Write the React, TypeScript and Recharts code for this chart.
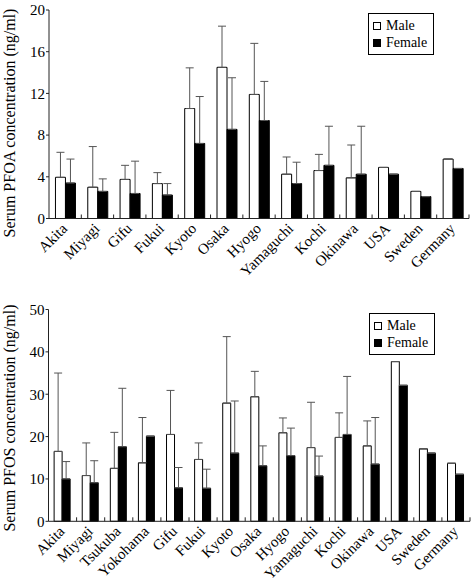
import { Bar, BarChart, ErrorBar, Label, Legend, XAxis, YAxis } from "recharts";

const FONT = '"Liberation Serif", "DejaVu Serif", "Noto Serif", Times, serif';

// PFOA panel (ng/ml), mean and SD
const pfoaSites = [
  "Akita", "Miyagi", "Gifu", "Fukui", "Kyoto", "Osaka", "Hyogo",
  "Yamaguchi", "Kochi", "Okinawa", "USA", "Sweden", "Germany",
];
const pfoaMale = [3.95, 3.0, 3.75, 3.35, 10.55, 14.5, 11.9, 4.25, 4.6, 3.9, 4.9, 2.6, 5.7];
const pfoaMaleSd = [2.4, 3.9, 1.35, 1.05, 3.9, 3.95, 4.9, 1.65, 1.55, 3.15, 0, 0, 0];
const pfoaFemale = [3.4, 2.6, 2.4, 2.25, 7.2, 8.55, 9.4, 3.35, 5.1, 4.25, 4.25, 2.1, 4.8];
const pfoaFemaleSd = [2.3, 1.2, 3.1, 1.1, 4.5, 4.95, 3.75, 2.05, 3.75, 4.6, 0, 0, 0];
const pfoaTicks = [0, 4, 8, 12, 16, 20];

// PFOS panel (ng/ml)
const pfosSites = [
  "Akita", "Miyagi", "Tsukuba", "Yokohama", "Gifu", "Fukui", "Kyoto", "Osaka",
  "Hyogo", "Yamaguchi", "Kochi", "Okinawa", "USA", "Sweden", "Germany",
];
const pfosMale = [16.5, 10.8, 12.5, 13.8, 20.5, 14.6, 27.9, 29.4, 20.9, 17.4, 19.8, 17.8, 37.7, 17.1, 13.7];
const pfosMaleSd = [18.5, 7.7, 8.5, 10.7, 10.4, 3.9, 15.7, 6.0, 3.5, 10.7, 5.8, 5.9, 0, 0, 0];
const pfosFemale = [10.0, 9.1, 17.6, 20.1, 7.9, 7.8, 16.1, 13.1, 15.5, 10.7, 20.5, 13.5, 32.1, 16.1, 11.1];
const pfosFemaleSd = [4.1, 5.2, 13.8, 0, 4.8, 4.5, 12.3, 4.7, 6.5, 4.7, 13.7, 11.0, 0, 0, 0];
const pfosTicks = [0, 10, 20, 30, 40, 50];

const sexes = ["Male", "Female"];

const buildRows = (sites: string[], male: number[], maleSd: number[], female: number[], femaleSd: number[]) =>
  sites.map((site, i) => ({
    site,
    male: male[i],
    female: female[i],
    // one-sided (upper) error bars
    maleErr: [0, maleSd[i]],
    femaleErr: [0, femaleSd[i]],
  }));

const pfoaData = buildRows(pfoaSites, pfoaMale, pfoaMaleSd, pfoaFemale, pfoaFemaleSd);
const pfosData = buildRows(pfosSites, pfosMale, pfosMaleSd, pfosFemale, pfosFemaleSd);

const SiteTick = (props: any) => {
  const { x, y, payload, band } = props;
  const tx = x + 3;
  const ty = y + 11;
  return (
    <g>
      <line x1={x + band / 2} x2={x + band / 2} y1={y} y2={y - 4} stroke="#222" />
      <text
        x={tx}
        y={ty}
        transform={`rotate(-45 ${tx} ${ty})`}
        textAnchor="end"
        style={{ fontFamily: FONT, fontSize: 15 }}
        fill="#000"
      >
        {payload.value}
      </text>
    </g>
  );
};

const SexLegend = () => (
  <div
    style={{
      border: "1px solid #000",
      background: "#fff",
      padding: "3px 6px 3px 4px",
      fontFamily: FONT,
      fontSize: 14,
      lineHeight: "17px",
      color: "#000",
    }}
  >
    {sexes.map((s, i) => (
      <div key={s} style={{ display: "flex", alignItems: "center" }}>
        <span
          style={{
            width: 8,
            height: 8,
            boxSizing: "border-box",
            border: "1px solid #000",
            background: i ? "#000" : "#fff",
            marginRight: 5,
            display: "inline-block",
          }}
        />
        {s}
      </div>
    ))}
  </div>
);

interface PanelProps {
  data: ReturnType<typeof buildRows>;
  ticks: number[];
  label: string;
  labelY: number;
  margin: { top: number; right: number; bottom: number; left: number };
  xHeight: number;
  legendPos: { left: number; top: number };
}

function Panel({ data, ticks, label, labelY, margin, xHeight, legendPos }: PanelProps) {
  const plotW = 472 - margin.left - margin.right - 40;
  const band = plotW / data.length;
  return (
    <BarChart
      width={472}
      height={291}
      data={data}
      margin={margin}
      barCategoryGap="20%"
      barGap={0}
    >
      <XAxis
        dataKey="site"
        height={xHeight}
        interval={0}
        tickLine={false}
        tickSize={0}
        tickMargin={0}
        stroke="#222"
        tick={(p: any) => <SiteTick {...p} band={band} />}
      />
      <YAxis
        width={40}
        domain={[ticks[0], ticks[ticks.length - 1]]}
        ticks={ticks}
        interval={0}
        tickSize={3}
        tickMargin={1}
        stroke="#222"
        tick={{ fill: "#000", style: { fontFamily: FONT, fontSize: 15 } }}
      >
        <Label
          content={() => (
            <text
              x={15}
              y={labelY}
              transform={`rotate(-90 15 ${labelY})`}
              textAnchor="middle"
              style={{ fontFamily: FONT, fontSize: 16 }}
              fill="#000"
            >
              {label}
            </text>
          )}
        />
      </YAxis>
      <Bar dataKey="male" name="Male" fill="#fff" stroke="#000" strokeWidth={1} isAnimationActive={false}>
        <ErrorBar dataKey="maleErr" width={4} stroke="#555" strokeWidth={1} direction="y" isAnimationActive={false} />
      </Bar>
      <Bar dataKey="female" name="Female" fill="#000" stroke="#000" strokeWidth={1} isAnimationActive={false}>
        <ErrorBar dataKey="femaleErr" width={4} stroke="#555" strokeWidth={1} direction="y" isAnimationActive={false} />
      </Bar>
      <Legend
        layout="vertical"
        align="center"
        verticalAlign="middle"
        wrapperStyle={{ left: legendPos.left, top: legendPos.top, width: "auto" }}
        content={() => <SexLegend />}
      />
    </BarChart>
  );
}

export default function App() {
  return (
    <div style={{ position: "absolute", left: 0, top: 0, width: 472, height: 582, background: "#fff", fontFamily: FONT }}>
      <div style={{ height: 291 }}>
        <Panel
          data={pfoaData}
          ticks={pfoaTicks}
          label="Serum PFOA concentration (ng/ml)"
          labelY={123}
          margin={{ top: 10, right: 3, bottom: 12.5, left: 9 }}
          xHeight={60}
          legendPos={{ left: 368, top: 13 }}
        />
      </div>
      <div style={{ height: 291 }}>
        <Panel
          data={pfosData}
          ticks={pfosTicks}
          label="Serum PFOS concentration (ng/ml)"
          labelY={127}
          margin={{ top: 18.5, right: 2, bottom: 5.7, left: 8.5 }}
          xHeight={55}
          legendPos={{ left: 369, top: 22 }}
        />
      </div>
    </div>
  );
}
